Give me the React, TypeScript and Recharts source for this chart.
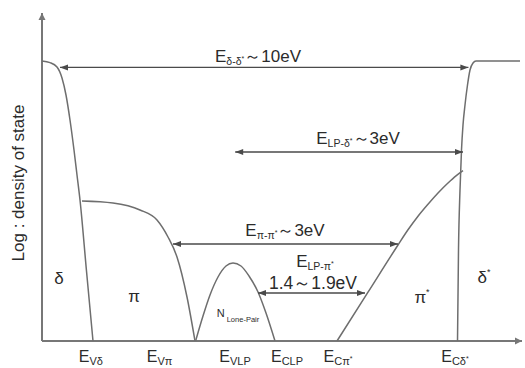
import React from "react";
import {
  ComposedChart,
  Line,
  XAxis,
  YAxis,
  ReferenceLine,
  ReferenceDot,
} from "recharts";

// energy (x) in arbitrary units, log DOS (y) in arbitrary units
const deltaBand = [
  { x: 0, y: 70 },
  { x: 2, y: 69.6 },
  { x: 3.75, y: 68.5 },
  { x: 5, y: 65.75 },
  { x: 6, y: 61.5 },
  { x: 7, y: 55.25 },
  { x: 8, y: 47.75 },
  { x: 8.75, y: 41.5 },
  { x: 9.5, y: 35.25 },
  { x: 11.1, y: 17.75 },
  { x: 12.75, y: 0 },
];

const piBand = [
  { x: 10, y: 35 },
  { x: 17.75, y: 34.5 },
  { x: 24.5, y: 32.75 },
  { x: 28.75, y: 30.25 },
  { x: 31.5, y: 26 },
  { x: 33.75, y: 21 },
  { x: 36.25, y: 11 },
  { x: 38.25, y: 0 },
];

const lonePairBand = [
  { x: 38.4, y: 0 },
  { x: 40.25, y: 6.25 },
  { x: 42, y: 11.5 },
  { x: 44, y: 16 },
  { x: 46, y: 18.75 },
  { x: 47.75, y: 19.5 },
  { x: 49.75, y: 18.75 },
  { x: 51.75, y: 16.25 },
  { x: 54, y: 12.25 },
  { x: 56, y: 7 },
  { x: 58.25, y: 0 },
];

const piStarBand = [
  { x: 73.75, y: 0 },
  { x: 81.5, y: 12.2 },
  { x: 89, y: 24 },
  { x: 91.5, y: 27.8 },
  { x: 94, y: 31.2 },
  { x: 96.5, y: 34.2 },
  { x: 99, y: 37 },
  { x: 101.5, y: 39.5 },
  { x: 103.5, y: 41.3 },
  { x: 105.25, y: 42.6 },
];

const deltaStarBand = [
  { x: 103.875, y: 0 },
  { x: 104.125, y: 22.75 },
  { x: 104.5, y: 37.75 },
  { x: 104.875, y: 47.75 },
  { x: 105.25, y: 54 },
  { x: 105.75, y: 59 },
  { x: 106.375, y: 64 },
  { x: 107, y: 67.75 },
  { x: 107.75, y: 69.5 },
  { x: 108.5, y: 70 },
  { x: 119.5, y: 70 },
];

const tickPositions = [12.2, 29.4, 48.25, 61.25, 74, 103.25];
const tickLabels = [
  { sub: "Vδ", star: false },
  { sub: "Vπ", star: false },
  { sub: "VLP", star: false },
  { sub: "CLP", star: false },
  { sub: "Cπ", star: true },
  { sub: "Cδ", star: true },
];

const gapArrows = [
  { x1: 4.5, x2: 106.6, y: 68.4 },
  { x1: 48.3, x2: 105.25, y: 47.25 },
  { x1: 32.75, x2: 89, y: 24.25 },
  { x1: 54, x2: 80.75, y: 12 },
];

const gapLabels = [
  { sub: "δ-δ", value: "～10eV", x: 54, y: 69.8 },
  { sub: "LP-δ", value: "～3eV", x: 79, y: 49.25 },
  { sub: "π-π", value: "～3eV", x: 60.75, y: 26.25 },
  { sub: "LP-π", value: "", x: 68.25, y: 18.5 },
];

const rangeLabel = { text: "1.4～1.9eV", x: 67.75, y: 12.9 };

const bandLabels = [
  { text: "δ", star: false, x: 4.25, y: 14.25 },
  { text: "π", star: false, x: 23, y: 9.8 },
  { text: "π", star: true, x: 95, y: 9.6 },
  { text: "δ", star: true, x: 110.5, y: 14.5 },
];

const lonePairLabel = { main: "N", sub: "Lone-Pair", x: 49, y: 6.1 };

const FONT = '"Liberation Sans", Arial, sans-serif';
const CURVE = "#6e6e6e";
const AXIS = "#777";
const ARROW = "#4a4a4a";
const TEXT = "#2b2b2b";

function head(x: number, y: number, a: number, len: number, w: number, color: string) {
  const bx = x - len * Math.cos(a);
  const by = y - len * Math.sin(a);
  const nx = -Math.sin(a) * w;
  const ny = Math.cos(a) * w;
  return (
    <polygon
      points={`${x},${y} ${bx + nx},${by + ny} ${bx - nx},${by - ny}`}
      fill={color}
    />
  );
}

function arrowShape(both: boolean, color: string, width: number, len: number, w: number) {
  return (p: any) => {
    const { x1, y1, x2, y2 } = p;
    const a = Math.atan2(y2 - y1, x2 - x1);
    return (
      <g>
        <line x1={x1} y1={y1} x2={x2} y2={y2} stroke={color} strokeWidth={width} />
        {both && head(x1, y1, a + Math.PI, len, w, color)}
        {head(x2, y2, a, len, w, color)}
      </g>
    );
  };
}

const XTick = (props: any) => {
  const { x, y, index } = props;
  const t = tickLabels[index];
  if (!t) return null;
  return (
    <text x={x} y={y + 21} textAnchor="middle" fill={TEXT} fontFamily={FONT} fontSize={16}>
      <tspan>E</tspan>
      <tspan fontSize={11} dy={3}>{t.sub}</tspan>
      {t.star && (
        <tspan fontSize={7} dy={-4}>*</tspan>
      )}
    </text>
  );
};

export default function App() {
  return (
    <div style={{ position: "absolute", left: 0, top: 0, background: "#fff" }}>
      <ComposedChart
        width={525}
        height={368}
        margin={{ top: 13, right: 3, bottom: 0, left: 0 }}
        style={{ fontFamily: FONT }}
      >
        <XAxis
          type="number"
          dataKey="x"
          domain={[0, 120]}
          ticks={tickPositions}
          interval={0}
          height={27}
          axisLine={false}
          tickLine={false}
          tickSize={0}
          tickMargin={0}
          tick={<XTick />}
          allowDataOverflow
        />
        <YAxis
          type="number"
          domain={[0, 82]}
          width={42}
          tick={false}
          axisLine={false}
          tickLine={false}
          allowDataOverflow
          label={{
            content: (p: any) => {
              const vb = p.viewBox || { x: 0, y: 13, width: 42, height: 328 };
              const cx = vb.x + 24;
              const cy = vb.y + vb.height / 2 + 6;
              return (
                <text
                  x={cx}
                  y={cy}
                  transform={`rotate(-90, ${cx}, ${cy})`}
                  textAnchor="middle"
                  fill={TEXT}
                  fontFamily={FONT}
                  fontSize={17}
                >
                  Log : density of state
                </text>
              );
            },
          }}
        />

        <ReferenceLine
          segment={[{ x: 0, y: 0 }, { x: 120, y: 0 }]}
          shape={arrowShape(false, AXIS, 2, 7, 3.5)}
        />
        <ReferenceLine
          segment={[{ x: 0, y: 0 }, { x: 0, y: 82 }]}
          shape={arrowShape(false, AXIS, 2, 7, 3.5)}
        />

        <Line data={deltaBand} dataKey="y" type="monotone" stroke={CURVE} strokeWidth={1.5} dot={false} isAnimationActive={false} />
        <Line data={piBand} dataKey="y" type="monotone" stroke={CURVE} strokeWidth={1.5} dot={false} isAnimationActive={false} />
        <Line data={lonePairBand} dataKey="y" type="monotone" stroke={CURVE} strokeWidth={1.5} dot={false} isAnimationActive={false} />
        <Line data={piStarBand} dataKey="y" type="monotone" stroke={CURVE} strokeWidth={1.5} dot={false} isAnimationActive={false} />
        <Line data={deltaStarBand} dataKey="y" type="monotone" stroke={CURVE} strokeWidth={1.5} dot={false} isAnimationActive={false} />

        {gapArrows.map((a, i) => (
          <ReferenceLine
            key={`arr-${i}`}
            segment={[{ x: a.x1, y: a.y }, { x: a.x2, y: a.y }]}
            shape={arrowShape(true, ARROW, 1.3, 8, 3)}
          />
        ))}

        {gapLabels.map((l, i) => (
          <ReferenceDot
            key={`gl-${i}`}
            x={l.x}
            y={l.y}
            r={0}
            shape={(p: any) => (
              <text x={p.cx} y={p.cy} textAnchor="middle" fill={TEXT} fontFamily={FONT} fontSize={17}>
                <tspan>E</tspan>
                <tspan fontSize={10.5} dy={3}>{l.sub}</tspan>
                <tspan fontSize={7} dy={-4}>*</tspan>
                {l.value && <tspan dy={1}>{l.value}</tspan>}
              </text>
            )}
          />
        ))}

        <ReferenceDot
          x={rangeLabel.x}
          y={rangeLabel.y}
          r={0}
          shape={(p: any) => (
            <text x={p.cx} y={p.cy} textAnchor="middle" fill={TEXT} fontFamily={FONT} fontSize={17.5}>
              {rangeLabel.text}
            </text>
          )}
        />

        {bandLabels.map((l, i) => (
          <ReferenceDot
            key={`bl-${i}`}
            x={l.x}
            y={l.y}
            r={0}
            shape={(p: any) => (
              <text x={p.cx} y={p.cy} textAnchor="middle" fill={TEXT} fontFamily={FONT} fontSize={17}>
                <tspan>{l.text}</tspan>
                {l.star && (
                  <tspan fontSize={9} dy={-8}>*</tspan>
                )}
              </text>
            )}
          />
        ))}

        <ReferenceDot
          x={lonePairLabel.x}
          y={lonePairLabel.y}
          r={0}
          shape={(p: any) => (
            <text x={p.cx} y={p.cy} textAnchor="middle" fill={TEXT} fontFamily={FONT} fontSize={11}>
              <tspan>{lonePairLabel.main}</tspan>
              <tspan fontSize={7.5} dx={2} dy={5}>{lonePairLabel.sub}</tspan>
            </text>
          )}
        />
      </ComposedChart>
    </div>
  );
}
